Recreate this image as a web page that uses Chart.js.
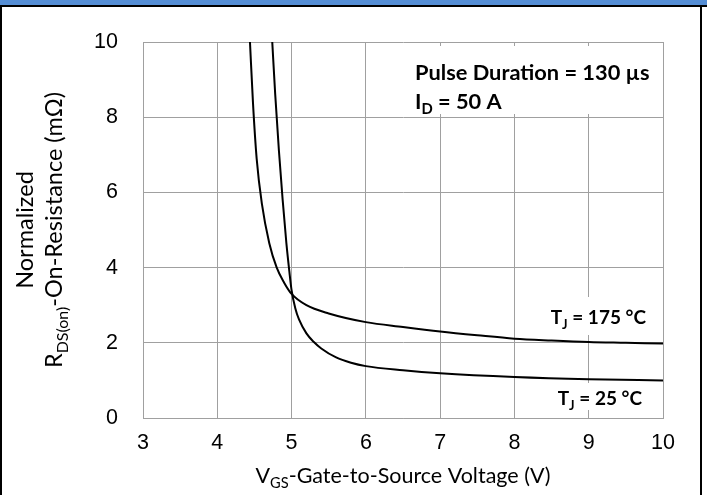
<!DOCTYPE html>
<html>
<head>
<meta charset="utf-8">
<script src="https://cdn.jsdelivr.net/npm/chart.js@4.4.1/dist/chart.umd.min.js"></script>
<style>
  html, body { margin: 0; padding: 0; background: #fff; }
  #rds { display: block; }
</style>
</head>
<body>
<canvas id="rds" width="707" height="495"></canvas>
<script>
// RDS(on) vs VGS, two junction temps

const vgs175 = [4.44, 4.48, 4.53, 4.6, 4.7, 4.8, 4.9, 5.0, 5.2, 5.5, 6.0, 6.5, 7.0, 7.5, 8.0, 8.5, 9.0, 9.5, 10.0];
const rds175 = [10, 8.4, 6.9, 5.7, 4.65, 4.0, 3.6, 3.3, 3.0, 2.78, 2.55, 2.42, 2.3, 2.2, 2.11, 2.06, 2.02, 2.0, 1.98];

const vgs25 = [4.74, 4.78, 4.83, 4.88, 4.93, 4.97, 5.0, 5.05, 5.1, 5.2, 5.3, 5.4, 5.6, 5.8, 6.0, 6.5, 7.0, 8.0, 9.0, 10.0];
const rds25 = [10, 8.6, 7.1, 5.8, 4.65, 3.9, 3.4, 2.92, 2.62, 2.25, 2.02, 1.85, 1.61, 1.47, 1.38, 1.27, 1.19, 1.09, 1.03, 1.0];

const xTicks = [3, 4, 5, 6, 7, 8, 9, 10];
const yTicks = [0, 2, 4, 6, 8, 10];

const GRID = "#a0a0a0";
const TITLE_FONT = "Lato, 'Open Sans', sans-serif";
const TICK_FONT = { family: "Liberation Sans, Arial, sans-serif", size: 21.5 };

// draw a run of [text, isSub] pieces starting at x (baseline y)
function drawRuns(ctx, runs, x, y, size, bold, align) {
  const w = runs.reduce((s, r) => {
    ctx.font = (bold ? "bold " : "") + (r[1] ? size * 0.68 : size) + "px " + TITLE_FONT;
    return s + ctx.measureText(r[0]).width;
  }, 0);
  let cx = align === "center" ? x - w / 2 : (align === "right" ? x - w : x);
  runs.forEach(r => {
    const sz = r[1] ? size * 0.68 : size;
    ctx.font = (bold ? "bold " : "") + sz + "px " + TITLE_FONT;
    ctx.fillText(r[0], cx, r[1] ? y + size * 0.25 : y);
    cx += ctx.measureText(r[0]).width;
  });
}

const decor = {
  id: "decor",
  beforeDraw(chart) {
    const ctx = chart.ctx;
    ctx.save();
    ctx.fillStyle = "#558ed5";
    ctx.fillRect(0, 0, 707, 5);
    ctx.fillStyle = "#000";
    ctx.fillRect(0, 5, 707, 2);
    ctx.fillRect(0, 5, 2, 490);
    ctx.fillRect(700, 5, 2, 490);
    ctx.restore();
  },
  beforeDatasetsDraw(chart) {
    const ctx = chart.ctx;
    ctx.save();
    ctx.fillStyle = "#fff";
    ctx.fillRect(367, 46, 295, 68);
    ctx.fillRect(548, 297, 108, 38);
    ctx.fillRect(552, 383, 100, 27);
    ctx.restore();
  },
  afterDraw(chart) {
    const ctx = chart.ctx;
    const a = chart.chartArea;
    ctx.save();
    ctx.fillStyle = "#000";
    ctx.textBaseline = "alphabetic";

    // annotations
    drawRuns(ctx, [["Pulse Duration = 130 µs", false]], 415, 80, 21.8, true, "left");
    drawRuns(ctx, [["I", false], ["D", true], [" = 50 A", false]], 415, 109, 21.8, true, "left");
    drawRuns(ctx, [["T", false], ["J", true], [" = 175 °C", false]], 646, 324, 19, true, "right");
    drawRuns(ctx, [["T", false], ["J", true], [" = 25 °C", false]], 642, 405, 19, true, "right");

    // x axis title
    drawRuns(ctx, [["V", false], ["GS", true], ["-Gate-to-Source Voltage (V)", false]],
      (a.left + a.right) / 2, 483, 21.5, false, "center");

    // y axis title, rotated
    const cy = (a.top + a.bottom) / 2;
    ctx.translate(0, cy);
    ctx.rotate(-Math.PI / 2);
    drawRuns(ctx, [["Normalized", false]], 0, 33, 23.5, false, "center");
    drawRuns(ctx, [["R", false], ["DS(on)", true], ["-On-Resistance (mΩ)", false]], 0, 62, 23.5, false, "center");
    ctx.restore();
  }
};

const toPts = (xs, ys) => xs.map((x, i) => ({ x: x, y: ys[i] }));

new Chart(document.getElementById("rds"), {
  type: "scatter",
  data: {
    datasets: [
      {
        label: "TJ = 175 °C",
        data: toPts(vgs175, rds175),
        showLine: true,
        borderColor: "#000",
        borderWidth: 2,
        pointRadius: 0,
        cubicInterpolationMode: "monotone"
      },
      {
        label: "TJ = 25 °C",
        data: toPts(vgs25, rds25),
        showLine: true,
        borderColor: "#000",
        borderWidth: 2,
        pointRadius: 0,
        cubicInterpolationMode: "monotone"
      }
    ]
  },
  options: {
    responsive: false,
    animation: false,
    layout: { padding: { left: 0, top: 42, right: 44, bottom: 0 } },
    plugins: {
      legend: { display: false },
      tooltip: { enabled: false }
    },
    scales: {
      x: {
        type: "linear",
        min: 3,
        max: 10,
        afterFit: s => { s.height = 77; },
        afterBuildTicks: s => { s.ticks = xTicks.map(v => ({ value: v })); },
        grid: { color: GRID, lineWidth: 1, drawTicks: false },
        border: { color: GRID, width: 1 },
        ticks: { padding: 12, color: "#000", font: TICK_FONT }
      },
      y: {
        type: "linear",
        min: 0,
        max: 10,
        afterFit: s => { s.width = 143; },
        afterBuildTicks: s => { s.ticks = yTicks.map(v => ({ value: v })); },
        grid: { color: GRID, lineWidth: 1, drawTicks: false },
        border: { color: GRID, width: 1 },
        ticks: { padding: 25, color: "#000", font: TICK_FONT }
      }
    }
  },
  plugins: [decor]
});
</script>
</body>
</html>
